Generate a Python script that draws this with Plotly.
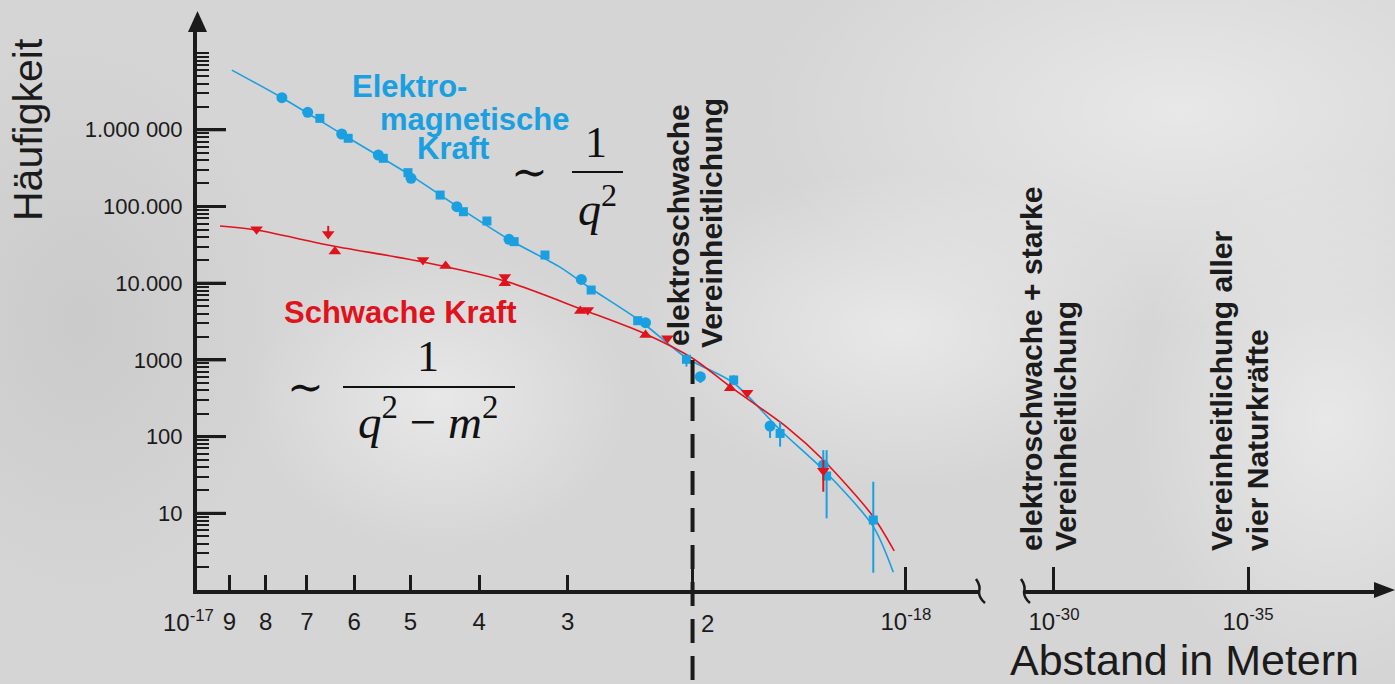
import math
import base64
import plotly.graph_objects as go

W, H = 1395, 684

# ---------------- data (distance in units of 1e-18 m, frequency) ----------------
em_circle_d = [7.59, 6.98, 6.25, 5.55, 4.99, 4.30, 3.63, 2.87, 2.33, 1.95, 1.555, 1.308]
em_circle_v = [2.62e6, 1.69e6, 8.81e5, 4.69e5, 2.33e5, 9.94e4, 3.73e4, 1.12e4, 3055, 604, 137, 42.6]
em_circle_ep = [0, 0, 0, 0, 0, 0, 0, 0, 0, 0, 0, 24]
em_circle_em = [0, 0, 0, 0, 0, 0, 0, 0, 0, 104, 41, 0]

em_square_d = [6.71, 6.12, 5.46, 5.04, 4.54, 4.21, 3.90, 3.57, 3.23, 2.78, 2.39, 2.04, 1.75, 1.505, 1.294, 1.112]
em_square_v = [1.41e6, 7.75e5, 4.25e5, 2.76e5, 1.41e5, 8.55e4, 6.47e4, 3.48e4, 2.33e4, 8150, 3245, 1018, 547, 110, 30.6, 8.18]
em_square_ep = [0, 0, 0, 0, 0, 0, 0, 0, 0, 0, 0, 0, 84, 46, 36, 17.6]
em_square_em = [0, 0, 0, 0, 0, 0, 0, 0, 0, 0, 0, 200, 79, 36, 22, 6.5]

em_curve_d = [8.93, 7.59, 6.28, 5.01, 4.26, 3.62, 3.08, 2.79, 2.37, 2.04, 1.75, 1.505, 1.294, 1.112, 1.042]
em_curve_v = [6.0e6, 2.62e6, 9.08e5, 2.58e5, 9.55e4, 3.66e4, 1.63e4, 8660, 3215, 1059, 500, 122, 33.5, 6.69, 1.70]

weak_down_d = [8.24, 6.53, 4.80, 3.68, 2.81, 2.17, 1.675, 1.308]
weak_down_v = [5.04e4, 4.38e4, 2.01e4, 1.2e4, 4475, 1913, 374, 35.9]
weak_down_ep = [0, 12000, 0, 0, 0, 0, 0, 13.6]
weak_down_em = [0, 0, 0, 0, 0, 0, 0, 16.8]

weak_up_d = [6.39, 4.46, 3.68, 2.88, 2.33, 1.77]
weak_up_v = [2.58e4, 1.68e4, 1.0e4, 4345, 2113, 426]

weak_curve_d = [9.28, 8.24, 6.54, 4.80, 3.68, 2.85, 2.33, 2.0, 1.77, 1.473, 1.308, 1.112, 1.039]
weak_curve_v = [5.57e4, 4.94e4, 3.15e4, 1.89e4, 1.07e4, 4475, 2178, 1050, 448, 133, 49.5, 9.03, 3.23]

x_tick_vals = [10, 9, 8, 7, 6, 5, 4, 3, 2, 1]
x_tick_text = [" ", "9", "8", "7", "6", "5", "4", "3", " ", "10<sup>-18</sup>"]
x_long_tick_vals = [2, 1]
x_first_label = "10<sup>-17</sup>"
x2_tick_vals = [1e-12, 1e-17]
x2_tick_text = ["10<sup>-30</sup>", "10<sup>-35</sup>"]
y_tick_vals = [10, 100, 1000, 1e4, 1e5, 1e6]
y_tick_text = ["10", "100", "1000", "10.000", "100.000", "1.000 000"]
y_minor_vals = [m * 10 ** k for k in range(0, 7) for m in range(2, 10)] + [1e7]

unification_d = 2.0  # electroweak unification position

BLUE = "#1a9fe0"
RED = "#e0131d"
INK = "#1b1b1b"
SANS = "Liberation Sans, Arial, sans-serif"
SERIF = "Liberation Serif, DejaVu Serif, serif"


def X(px):
    return px / W


def Y(py):
    return 1 - py / H


# soft grey photographic-looking backdrop
bg_svg = f"""<svg xmlns='http://www.w3.org/2000/svg' width='{W}' height='{H}'>
<defs>
<radialGradient id='a' cx='0.5' cy='0.5' r='0.5'><stop offset='0' stop-color='#ffffff' stop-opacity='0.45'/><stop offset='1' stop-color='#ffffff' stop-opacity='0'/></radialGradient>
<radialGradient id='b' cx='0.5' cy='0.5' r='0.5'><stop offset='0' stop-color='#a0a0a0' stop-opacity='0.2'/><stop offset='1' stop-color='#a0a0a0' stop-opacity='0'/></radialGradient>
</defs>
<rect width='{W}' height='{H}' fill='#d5d5d5'/>
<ellipse cx='1180' cy='110' rx='420' ry='220' fill='url(#a)'/>
<ellipse cx='1330' cy='420' rx='200' ry='260' fill='url(#a)'/>
<ellipse cx='440' cy='400' rx='190' ry='150' fill='url(#a)'/>
<ellipse cx='900' cy='330' rx='260' ry='160' fill='url(#a)'/>
<ellipse cx='80' cy='320' rx='200' ry='280' fill='url(#b)'/>
</svg>"""
bg_uri = "data:image/svg+xml;base64," + base64.b64encode(bg_svg.encode()).decode()

fig = go.Figure()

# curves
fig.add_trace(go.Scatter(x=em_curve_d, y=em_curve_v, mode="lines",
                         line=dict(color=BLUE, width=1.6, shape="spline", smoothing=0.8), hoverinfo="skip"))
fig.add_trace(go.Scatter(x=weak_curve_d, y=weak_curve_v, mode="lines",
                         line=dict(color=RED, width=1.6, shape="spline", smoothing=0.8), hoverinfo="skip"))

# measured points
fig.add_trace(go.Scatter(x=em_circle_d, y=em_circle_v, mode="markers",
                         marker=dict(symbol="circle", size=11, color=BLUE),
                         error_y=dict(type="data", symmetric=False, array=em_circle_ep,
                                      arrayminus=em_circle_em, color=BLUE, thickness=2, width=0)))
fig.add_trace(go.Scatter(x=em_square_d, y=em_square_v, mode="markers",
                         marker=dict(symbol="square", size=9, color=BLUE),
                         error_y=dict(type="data", symmetric=False, array=em_square_ep,
                                      arrayminus=em_square_em, color=BLUE, thickness=2, width=0)))
fig.add_trace(go.Scatter(x=weak_down_d, y=weak_down_v, mode="markers",
                         marker=dict(symbol="triangle-down", size=11, color=RED),
                         error_y=dict(type="data", symmetric=False, array=weak_down_ep,
                                      arrayminus=weak_down_em, color=RED, thickness=2, width=0)))
fig.add_trace(go.Scatter(x=weak_up_d, y=weak_up_v, mode="markers",
                         marker=dict(symbol="triangle-up", size=11, color=RED)))

# invisible traces so the extra x axes are drawn
fig.add_trace(go.Scatter(x=x2_tick_vals, y=[None, None], xaxis="x2", yaxis="y",
                         mode="markers", showlegend=False, hoverinfo="skip"))
fig.add_trace(go.Scatter(x=x_long_tick_vals, y=[None, None], xaxis="x3", yaxis="y",
                         mode="markers", showlegend=False, hoverinfo="skip"))

axis_common = dict(showgrid=False, zeroline=False, showline=True, linecolor=INK, linewidth=4,
                   automargin=False, ticks="inside", tickcolor=INK, tickangle=0,
                   tickfont=dict(family=SANS, size=24, color=INK))

main_x_domain = [X(197), X(978)]
main_x_range = [1, -0.1016]
y_domain = [Y(590), Y(31)]
y_range = [0, 7.288]

fig.update_layout(
    width=W, height=H,
    margin=dict(l=0, r=0, t=0, b=0),
    paper_bgcolor="#d5d5d5", plot_bgcolor="rgba(0,0,0,0)",
    showlegend=False,
    images=[dict(source=bg_uri, xref="paper", yref="paper", x=0, y=1, sizex=1, sizey=1,
                 sizing="stretch", xanchor="left", yanchor="top", layer="below")],
    xaxis=dict(axis_common, type="log", domain=main_x_domain, range=main_x_range,
               tickmode="array", tickvals=x_tick_vals, ticktext=x_tick_text,
               ticklen=15, tickwidth=3, anchor="y", ticklabelstandoff=7),
    xaxis3=dict(type="log", domain=main_x_domain, range=main_x_range, overlaying="x", anchor="y",
                showline=False, showgrid=False, zeroline=False, automargin=False,
                tickmode="array", tickvals=x_long_tick_vals, ticks="inside", ticklen=23,
                tickwidth=3, tickcolor=INK, showticklabels=False),
    xaxis2=dict(axis_common, type="log", domain=[X(1024), X(1376)], range=[-11.227, -20.299],
                tickmode="array", tickvals=x2_tick_vals, ticktext=x2_tick_text,
                ticklen=23, tickwidth=3, anchor="y", ticklabelstandoff=7),
    yaxis=dict(axis_common, type="log", domain=y_domain, range=y_range,
               tickmode="array", tickvals=y_tick_vals, ticktext=y_tick_text,
               tickfont=dict(family=SANS, size=22, color=INK),
               ticklen=29, tickwidth=3, ticklabelstandoff=6,
               minor=dict(tickmode="array", tickvals=y_minor_vals, ticks="inside",
                          ticklen=12, tickwidth=2, tickcolor=INK, showgrid=False)),
)

shapes = []
# long major ticks on the frequency axis, at the tick values
for v in y_tick_vals:
    shapes.append(dict(type="line", xref="paper", yref="y", x0=X(196), x1=X(226), y0=v, y1=v,
                       line=dict(color=INK, width=3)))
# electroweak unification dashed line
shapes.append(dict(type="line", xref="x", yref="paper", x0=unification_d, x1=unification_d,
                   y0=Y(360), y1=0, line=dict(color=INK, width=4, dash="24px,13px")))
# axis arrows
shapes.append(dict(type="path", xref="paper", yref="paper",
                   path=f"M {X(188)},{Y(32)} L {X(207)},{Y(32)} L {X(197.5)},{Y(11)} Z",
                   fillcolor=INK, line=dict(width=0)))
shapes.append(dict(type="path", xref="paper", yref="paper",
                   path=f"M {X(1374)},{Y(582)} L {X(1374)},{Y(598)} L {X(1395)},{Y(590)} Z",
                   fillcolor=INK, line=dict(width=0)))
# axis break marks
for x0 in (975, 1020):
    shapes.append(dict(type="path", xref="paper", yref="paper",
                       path=f"M {X(x0 + 1)},{Y(579)} Q {X(x0 + 6)},{Y(586)} {X(x0 + 4)},{Y(592)} "
                            f"Q {X(x0 + 4)},{Y(598)} {X(x0 + 10)},{Y(603)}",
                       line=dict(color=INK, width=2.5)))
# fraction bars
shapes.append(dict(type="line", xref="paper", yref="paper", x0=X(572), x1=X(623), y0=Y(172), y1=Y(172),
                   line=dict(color="#111", width=2)))
shapes.append(dict(type="line", xref="paper", yref="paper", x0=X(343), x1=X(515), y0=Y(387), y1=Y(387),
                   line=dict(color="#111", width=2)))

annotations = []


def txt(text, px, py, size, color=INK, family=SANS, xanchor="center", yanchor="middle", angle=0):
    annotations.append(dict(text=text, x=X(px), y=Y(py), xref="paper", yref="paper", showarrow=False,
                            xanchor=xanchor, yanchor=yanchor, textangle=angle, align="left",
                            font=dict(family=family, size=size, color=color)))


# axis titles
txt("Häufigkeit", 28, 130, 41, angle=-90)
txt("Abstand in Metern", 1361, 660, 43, xanchor="right")
# first and "2" tick labels, placed beside their ticks (log axis -> annotation x in log10 units)
annotations.append(dict(text=x_first_label, x=math.log10(x_tick_vals[0]), y=Y(621), xref="x", yref="paper",
                        showarrow=False, xshift=-9, xanchor="center", yanchor="middle",
                        font=dict(family=SANS, size=24, color=INK)))
annotations.append(dict(text="2", x=math.log10(unification_d), y=Y(623), xref="x", yref="paper",
                        showarrow=False, xshift=15, xanchor="center", yanchor="middle",
                        font=dict(family=SANS, size=24, color=INK)))

# series labels
txt("<b>Elektro-</b>", 350, 86, 31, color=BLUE, xanchor="left")
txt("<b>magnetische</b>", 378, 119, 31, color=BLUE, xanchor="left")
txt("<b>Kraft</b>", 415, 149, 31, color=BLUE, xanchor="left")
txt("<b>Schwache Kraft</b>", 282, 312, 31, color=RED, xanchor="left")

# formulas
txt("∼", 529, 172, 44, color="#111", family=SERIF)
txt("1", 596, 142, 44, color="#111", family=SERIF)
txt("<i>q</i><sup>2</sup>", 597, 206, 46, color="#111", family=SERIF)
txt("∼", 305, 387, 44, color="#111", family=SERIF)
txt("1", 428, 357, 44, color="#111", family=SERIF)
txt("<i>q</i><sup>2</sup> − <i>m</i><sup>2</sup>", 428, 418, 47, color="#111", family=SERIF)

# vertical unification labels
txt("<b>elektroschwache</b>", 678, 348, 30, yanchor="bottom", angle=-90)
txt("<b>Vereinheitlichung</b>", 711, 350, 30, yanchor="bottom", angle=-90)
txt("<b>elektroschwache + starke</b>", 1031, 553, 30, yanchor="bottom", angle=-90)
txt("<b>Vereinheitlichung</b>", 1065, 553, 30, yanchor="bottom", angle=-90)
txt("<b>Vereinheitlichung aller</b>", 1221, 553, 30, yanchor="bottom", angle=-90)
txt("<b>vier Naturkräfte</b>", 1257, 553, 30, yanchor="bottom", angle=-90)

fig.update_layout(shapes=shapes, annotations=annotations)
fig.write_html("out.html")
